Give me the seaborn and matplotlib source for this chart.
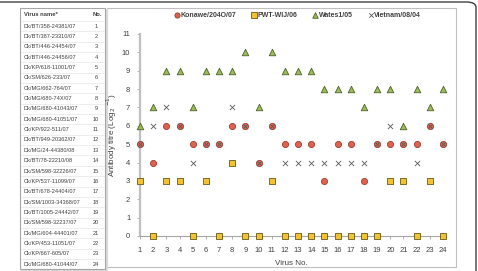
import matplotlib
matplotlib.use('Agg')
import matplotlib.pyplot as plt
import seaborn as sns
import pandas as pd
from matplotlib.patches import FancyBboxPatch, Rectangle
from matplotlib.lines import Line2D

virus_no = list(range(1, 25))
virus_names = [
    "Dk/BT/358-24381/07", "Dk/BT/387-23310/07", "Ck/BT/446-24454/07",
    "Ck/BT/446-24456/07", "Dk/KP/618-11001/07", "Ck/SM/626-233/07",
    "Ck/MG/662-764/07", "Ck/MG/680-74X/07", "Dk/MG/680-41043/07",
    "Dk/MG/680-41051/07", "Ck/KP/922-511/07", "Dk/BT/949-20362/07",
    "Dk/MG/24-44380/08", "Dk/BT/78-22210/08", "Dk/SM/598-32226/07",
    "Ck/KP/537-11099/07", "Dk/BT/678-24404/07", "Dk/SM/1003-34368/07",
    "Dk/BT/1005-24442/07", "Dk/SM/598-32237/07", "Dk/MG/604-44401/07",
    "Ck/KP/453-11051/07", "Ck/KP/667-605/07", "Dk/MG/680-41044/07",
]
konawe = [5, 4, 6, 6, 5, 5, 5, 6, 6, 4, 6, 5, 5, 5, 3, 5, 5, 3, 5, 5, 5, 5, 6, 5]
pwt = [3, 0, 3, 3, 0, 3, 0, 4, 0, 0, 3, 0, 0, 0, 0, 0, 0, 0, 0, 3, 3, 0, 3, 0]
wates = [6, 7, 9, 9, 7, 9, 9, 9, 10, 7, 10, 9, 9, 9, 8, 8, 8, 7, 8, 8, 6, 8, 7, 8]
vietnam = [5, 6, 7, 6, 4, 5, 5, 7, 6, 4, 6, 4, 4, 4, 4, 4, 4, 4, 5, 6, 5, 4, 6, 5]
series_names = ["Konawe/204O/07", "PWT-WIJ/06", "Wates1/05", "Vietnam/08/04"]
y_ticks = list(range(0, 12))

W, H = 478, 271
fig = plt.figure(figsize=(W / 100, H / 100), dpi=100)
plt.rcParams['font.family'] = ['Liberation Sans', 'DejaVu Sans']

def fx(px):
    return px / W

def fy(py):
    return 1 - py / H

# outer rounded frame
fig.patches.append(FancyBboxPatch((fx(-10), fy(300)), fx(486), (300 - 2) / H,
                                  boxstyle="round,pad=0,rounding_size=0.02",
                                  transform=fig.transFigure, fill=False,
                                  edgecolor='#404040', linewidth=1.0))
# chart box
fig.patches.append(Rectangle((fx(107), fy(267)), fx(456 - 107), (267 - 8) / H,
                             transform=fig.transFigure, fill=False,
                             edgecolor='#BFBFBF', linewidth=0.8))
# table box with shadow
fig.patches.append(Rectangle((fx(21), fy(271)), fx(107 - 20), (271 - 9) / H,
                             transform=fig.transFigure, facecolor='#D9D9D9',
                             edgecolor='none'))
fig.patches.append(Rectangle((fx(20), fy(269)), fx(105 - 20), (269 - 8) / H,
                             transform=fig.transFigure, facecolor='white',
                             edgecolor='#A6A6A6', linewidth=0.8))

# table text
tcol = '#404040'
fig.text(fx(24), fy(14), "Virus name*", fontsize=4.2, color=tcol,
         fontweight='bold', va='center', ha='left')
fig.text(fx(93), fy(14), "No.", fontsize=4.2, color=tcol,
         fontweight='bold', va='center', ha='left')
for i, (nm, no) in enumerate(zip(virus_names, virus_no)):
    yy = 26 + i * 10.36
    fig.text(fx(24), fy(yy), nm, fontsize=4.1, color=tcol, va='center', ha='left')
    fig.text(fx(96), fy(yy), str(no), fontsize=4.1, color=tcol, va='center', ha='center')
    fig.lines.append(Line2D([fx(21), fx(104)], [fy(yy - 5.2), fy(yy - 5.2)],
                            transform=fig.transFigure, color='#E0E0E0', linewidth=0.4))

# main axes
ax = fig.add_axes([fx(140), fy(236), fx(443 - 140), (236 - 34) / H])
ax.set_zorder(2)
df = pd.DataFrame({"no": virus_no, "konawe": konawe, "pwt": pwt,
                   "wates": wates, "vietnam": vietnam})

sns.scatterplot(data=df, x="no", y="pwt", ax=ax, marker='s', s=20,
                color='#F2C232', edgecolor='#6B5A10', linewidth=0.6,
                clip_on=False, zorder=3, label=series_names[1])
sns.scatterplot(data=df, x="no", y="wates", ax=ax, marker='^', s=22,
                color='#9BBB59', edgecolor='#4F6228', linewidth=0.6,
                clip_on=False, zorder=3, label=series_names[2])
sns.scatterplot(data=df, x="no", y="konawe", ax=ax, marker='o', s=20,
                color='#E0604D', edgecolor='#8B2E20', linewidth=0.5,
                clip_on=False, zorder=3, label=series_names[0])
sns.scatterplot(data=df, x="no", y="vietnam", ax=ax, marker='x', s=14,
                color='#595959', linewidth=0.6,
                clip_on=False, zorder=4, label=series_names[3])

ax.set_xlim(1, 24)
ax.set_ylim(0, 11)
ax.set_xticks(virus_no)
ax.set_yticks(y_ticks)
ax.tick_params(axis='both', labelsize=5.5, length=2, width=0.6, pad=4)
ax.tick_params(axis='x', colors='#A6A6A6', labelcolor='#404040', pad=6)
ax.tick_params(axis='y', colors='#A6A6A6', labelcolor='#404040', pad=5)
for s in ['top', 'right']:
    ax.spines[s].set_visible(False)
ax.spines['left'].set_color('#BFBFBF')
ax.spines['left'].set_linewidth(1.6)
ax.spines['bottom'].set_color('#A6A6A6')
ax.spines['bottom'].set_linewidth(0.8)
ax.set_facecolor('none')
ax.set_xlabel("Virus No.", fontsize=5.8, color='#404040', labelpad=4)
ax.set_ylabel(r"Antibody titre (Log$_2$ $^{-1}$)", fontsize=5.8, color='#404040', labelpad=2)

h, l = ax.get_legend_handles_labels()
order = [l.index(n) for n in series_names]
ax.legend([h[i] for i in order], [l[i] for i in order], ncol=4,
          loc='center', bbox_to_anchor=(0.52, 1.09), frameon=False,
          prop={'size': 5.0, 'weight': 'bold'}, labelcolor='#404040',
          handletextpad=0.05, columnspacing=2.2, markerscale=0.85,
          handlelength=0.8)

fig.savefig("out.png", dpi=100)
